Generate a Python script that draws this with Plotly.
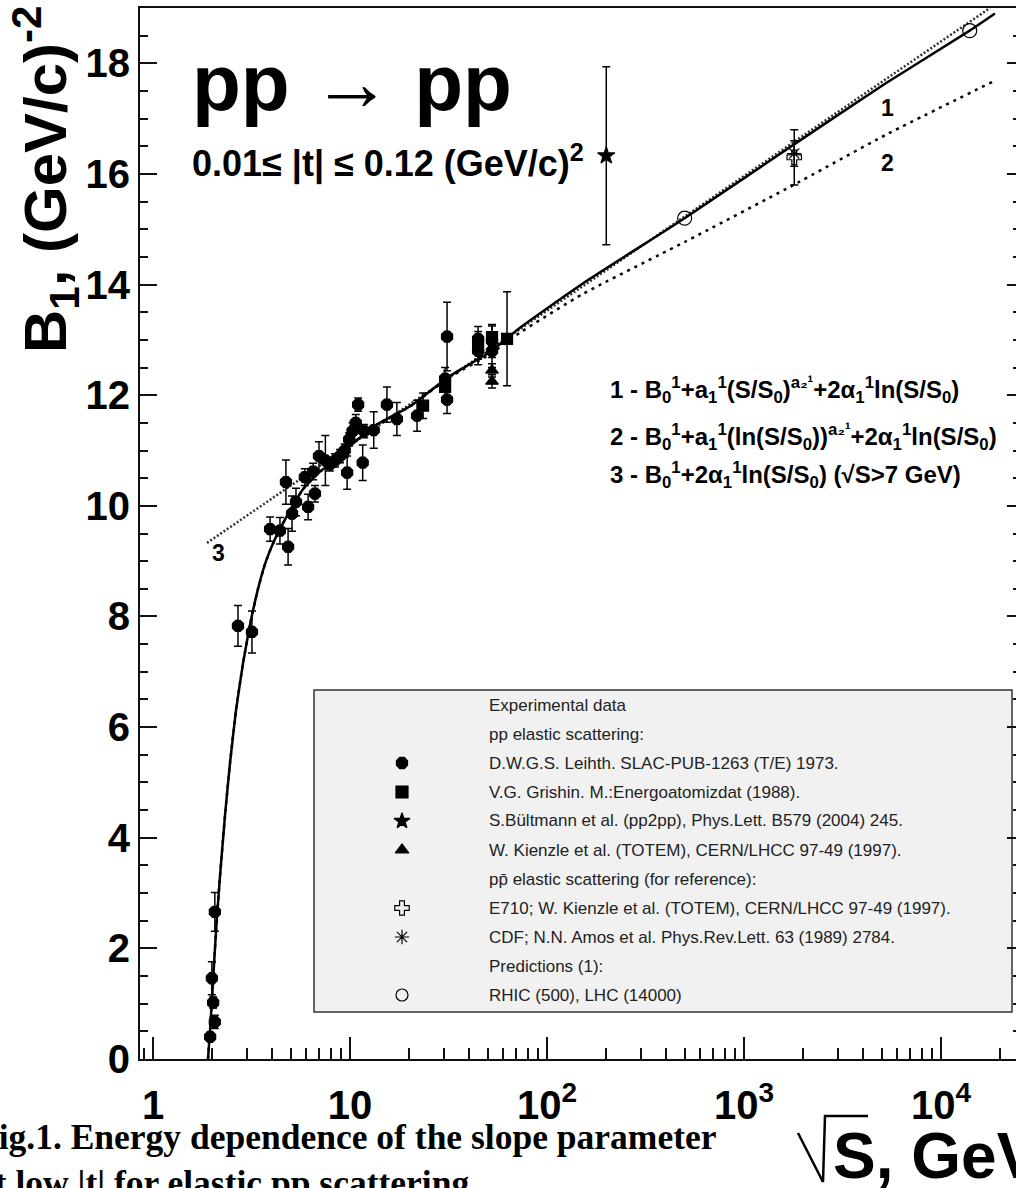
import plotly.graph_objects as go

# ---------------- data ----------------
# D.W.G.S. Leith, SLAC (full circles): sqrt(s) [GeV], B1 [(GeV/c)^-2], error
leith_s = [1.95, 2.02, 2.06, 1.99, 2.06, 2.70, 3.18, 3.93, 4.41, 4.85, 4.73, 5.08,
           5.32, 6.13, 6.64, 5.90, 6.50, 6.96, 7.50, 7.90, 8.40, 8.90, 9.40, 9.67,
           9.90, 10.3, 10.7, 11.0, 11.6, 11.8, 13.2, 15.4, 17.3, 21.9, 30.4, 31.1,
           31.1, 44.7, 44.7, 52.6, 52.6]
leith_B = [0.40, 1.02, 0.67, 1.46, 2.66, 7.83, 7.72, 9.58, 9.55, 9.26, 10.43, 9.86,
           10.07, 9.98, 10.22, 10.52, 10.62, 10.90, 10.82, 10.75, 10.82, 10.90, 11.00, 10.60,
           11.20, 11.35, 11.50, 11.83, 10.78, 11.35, 11.37, 11.83, 11.57, 11.63, 12.30, 11.92,
           13.06, 13.02, 12.80, 12.98, 12.80]
leith_err = [0.08, 0.10, 0.12, 0.30, 0.35, 0.37, 0.38, 0.22, 0.24, 0.33, 0.40, 0.32,
             0.25, 0.23, 0.15, 0.15, 0.15, 0.26, 0.45, 0.12, 0.12, 0.12, 0.12, 0.30,
             0.12, 0.15, 0.15, 0.12, 0.32, 0.12, 0.33, 0.32, 0.30, 0.28, 0.20, 0.25,
             0.62, 0.22, 0.25, 0.30, 0.30]

# V.G. Grishin (full squares)
grishin_s = [23.5, 30.4, 44.7, 52.6, 62.7]
grishin_B = [11.81, 12.15, 12.90, 13.05, 13.02]
grishin_err = [0.23, 0.20, 0.25, 0.20, 0.85]

# W. Kienzle et al. (TOTEM) (full triangles)
totem_s = [52.6, 52.6]
totem_B = [12.45, 12.25]
totem_err = [0.12, 0.12]

# S. Bueltmann et al. (pp2pp) (star)
pp2pp_s = [200.0]
pp2pp_B = [16.33]
pp2pp_err = [1.61]

# E710 (open cross) and CDF (asterisk), p-pbar
e710_s = [1800.0]
e710_B = [16.30]
e710_err = [0.50]
cdf_s = [1800.0]
cdf_B = [16.37]
cdf_err = [0.23]

# Predictions (1): RHIC, LHC (open circles)
pred_s = [500.0, 14000.0]
pred_B = [15.20, 18.59]

# Curve 1 (solid)
curve1_s = [1.902, 1.947, 2.017, 2.088, 2.188, 2.320, 2.460, 2.638, 2.863, 3.108,
            3.412, 3.746, 4.162, 4.845, 5.772, 7.042, 8.897, 10.0,
            13.4, 20.2, 32.2, 51.4, 72.9, 152.0, 500.0, 1720.0, 5200.0, 14000.0, 18800.0]
curve1_B = [0.00, 0.50, 1.40, 2.30, 3.30, 4.40, 5.35, 6.30, 7.15, 7.85,
            8.50, 9.00, 9.40, 9.85, 10.30, 10.62, 10.88, 11.08,
            11.45, 11.80, 12.35, 12.78, 13.22, 14.02, 15.20, 16.49, 17.63, 18.59, 18.90]

# Curve 2 (dashed)
curve2_s = [1.902, 1.947, 2.017, 2.088, 2.188, 2.320, 2.460, 2.638, 2.863, 3.108,
            3.412, 3.746, 4.162, 4.845, 5.772, 7.042, 8.897, 10.0,
            13.4, 20.2, 32.2, 51.4, 72.9, 152.0, 500.0, 1720.0, 5200.0, 18370.0]
curve2_B = [0.00, 0.50, 1.40, 2.30, 3.30, 4.40, 5.35, 6.30, 7.15, 7.85,
            8.50, 9.00, 9.40, 9.85, 10.30, 10.62, 10.88, 11.08,
            11.45, 11.80, 12.33, 12.74, 13.13, 13.83, 14.77, 15.77, 16.70, 17.67]

# Curve 3 (dotted)
curve3_s = [1.88, 20.0, 500.0, 17740.0]
curve3_B = [9.33, 11.83, 15.23, 19.00]

# Axis ticks
xtick_vals = [1, 10, 100, 1000, 10000]
xtick_text = ["1", "10", "10<sup>2</sup>", "10<sup>3</sup>", "10<sup>4</sup>"]

# Legend
legend_lines = [
    "Experimental data",
    "pp elastic scattering:",
    "D.W.G.S. Leihth. SLAC-PUB-1263 (T/E) 1973.",
    "V.G. Grishin. M.:Energoatomizdat (1988).",
    "S.B\u00fcltmann et al. (pp2pp), Phys.Lett. B579 (2004) 245.",
    "W. Kienzle et al. (TOTEM), CERN/LHCC 97-49 (1997).",
    "pp\u0304 elastic scattering (for reference):",
    "E710; W. Kienzle et al. (TOTEM), CERN/LHCC 97-49 (1997).",
    "CDF; N.N. Amos et al. Phys.Rev.Lett. 63 (1989) 2784.",
    "Predictions (1):",
    "RHIC (500), LHC (14000)",
]
legend_symbol_rows = [2, 3, 4, 5, 7, 8, 10]
legend_symbols = ["octagon", "square", "star", "triangle-up", "cross-open", "asterisk-open", "circle-open"]

# ---------------- layout geometry (pixels) ----------------
W, H = 1016, 1188
L, R, T, B = 140, 1016, 8, 1059


def xp(x):
    return (x - L) / (R - L)


def yp(y):
    return (B - y) / (B - T)


FONT = "Liberation Sans, Arial, Helvetica, sans-serif"
SERIF = "Liberation Serif, Times New Roman, serif"
INK = "#111111"

fig = go.Figure()

# curves
fig.add_trace(go.Scatter(x=curve3_s, y=curve3_B, mode="lines",
                         line=dict(color="#333333", width=2.5, dash="2px,2px"),
                         hoverinfo="skip"))
fig.add_trace(go.Scatter(x=curve2_s, y=curve2_B, mode="lines",
                         line=dict(color="black", width=2.5, dash="3px,5px", shape="spline", smoothing=0.5),
                         hoverinfo="skip"))
fig.add_trace(go.Scatter(x=curve1_s, y=curve1_B, mode="lines",
                         line=dict(color="black", width=2.5, shape="spline", smoothing=0.5),
                         hoverinfo="skip"))


def add_points(s, b, e, symbol, size):
    kw = {}
    if e is not None:
        kw["error_y"] = dict(type="data", array=e, visible=True, color="black",
                             thickness=1.5, width=4)
    fig.add_trace(go.Scatter(x=s, y=b, mode="markers",
                             marker=dict(symbol=symbol, size=size, color="black",
                                         line=dict(color="black", width=1.2)),
                             **kw))


add_points(leith_s, leith_B, leith_err, "octagon", 12)
add_points(grishin_s, grishin_B, grishin_err, "square", 11)
add_points(totem_s, totem_B, totem_err, "triangle-up", 11)
add_points(pp2pp_s, pp2pp_B, pp2pp_err, "star", 13)
add_points(e710_s, e710_B, e710_err, "cross-open", 12)
add_points(cdf_s, cdf_B, cdf_err, "asterisk-open", 12)
add_points(pred_s, pred_B, None, "circle-open", 14)

# dummy trace for the right-hand tick axis
fig.add_trace(go.Scatter(x=[1], y=[0], yaxis="y2", mode="markers",
                         marker=dict(opacity=0), hoverinfo="skip"))

# legend key markers (overlay axes in pixel units)
LEG_X0, LEG_ROW0, LEG_DY = 402, 705, 29
fig.add_trace(go.Scatter(
    x=[LEG_X0] * len(legend_symbol_rows),
    y=[LEG_ROW0 + LEG_DY * r for r in legend_symbol_rows],
    xaxis="x3", yaxis="y3", mode="markers",
    marker=dict(symbol=legend_symbols, size=12, color="black",
                line=dict(color="black", width=1.2)),
    hoverinfo="skip"))

shapes = [
    dict(type="rect", xref="x3", yref="y3", x0=314, x1=1012, y0=690, y1=1012,
         fillcolor="#f1f1f1", line=dict(color="#333333", width=1.5), layer="below"),
    # square-root sign of the x title
    dict(type="path", xref="paper", yref="paper",
         path=f"M {xp(798)},{yp(1133)} L {xp(823)},{yp(1182)} L {xp(825)},{yp(1116)} L {xp(868)},{yp(1116)}",
         line=dict(color="black", width=2.5)),
]

annotations = []
for i, txt in enumerate(legend_lines):
    annotations.append(dict(x=xp(487), y=yp(LEG_ROW0 + LEG_DY * i), xref="paper", yref="paper",
                            text=txt, showarrow=False, xanchor="left", yanchor="middle",
                            font=dict(family=FONT, size=17, color="#222222")))

annotations += [
    dict(x=xp(190), y=yp(83), xref="paper", yref="paper", text="pp \u2192 pp",
         showarrow=False, xanchor="left", yanchor="middle",
         font=dict(family=FONT, size=80, color="black", weight="bold")),
    dict(x=xp(190), y=yp(162), xref="paper", yref="paper",
         text="0.01\u2264 |t| \u2264 0.12 (GeV/c)<sup>2</sup>",
         showarrow=False, xanchor="left", yanchor="middle",
         font=dict(family=FONT, size=36, color="black", weight="bold")),
    dict(x=xp(887), y=yp(108), xref="paper", yref="paper", text="1", showarrow=False,
         xanchor="center", yanchor="middle", font=dict(family=FONT, size=23, color="black", weight="bold")),
    dict(x=xp(887), y=yp(163), xref="paper", yref="paper", text="2", showarrow=False,
         xanchor="center", yanchor="middle", font=dict(family=FONT, size=23, color="black", weight="bold")),
    dict(x=xp(218), y=yp(553), xref="paper", yref="paper", text="3", showarrow=False,
         xanchor="center", yanchor="middle", font=dict(family=FONT, size=23, color="black", weight="bold")),
    dict(x=xp(608), y=yp(390), xref="paper", yref="paper",
         text="1 - B<sub>0</sub><sup>1</sup>+a<sub>1</sub><sup>1</sup>(S/S<sub>0</sub>)<sup>a\u2082\u00b9</sup>+2\u03b1<sub>1</sub><sup>1</sup>ln(S/S<sub>0</sub>)",
         showarrow=False, xanchor="left", yanchor="middle",
         font=dict(family=FONT, size=24, color="black", weight="bold")),
    dict(x=xp(608), y=yp(437), xref="paper", yref="paper",
         text="2 - B<sub>0</sub><sup>1</sup>+a<sub>1</sub><sup>1</sup>(ln(S/S<sub>0</sub>))<sup>a\u2082\u00b9</sup>+2\u03b1<sub>1</sub><sup>1</sup>ln(S/S<sub>0</sub>)",
         showarrow=False, xanchor="left", yanchor="middle",
         font=dict(family=FONT, size=24, color="black", weight="bold")),
    dict(x=xp(608), y=yp(475), xref="paper", yref="paper",
         text="3 - B<sub>0</sub><sup>1</sup>+2\u03b1<sub>1</sub><sup>1</sup>ln(S/S<sub>0</sub>) (\u221aS>7 GeV)",
         showarrow=False, xanchor="left", yanchor="middle",
         font=dict(family=FONT, size=24, color="black", weight="bold")),
    # y axis title
    dict(x=xp(46), y=yp(180), xref="paper", yref="paper",
         text="B<sub>1</sub>, (GeV/c)<sup>-2</sup>", textangle=-90, showarrow=False,
         xanchor="center", yanchor="middle",
         font=dict(family=FONT, size=60, color="black", weight="bold")),
    # x axis title
    dict(x=xp(831), y=yp(1156), xref="paper", yref="paper", text="S, GeV", showarrow=False,
         xanchor="left", yanchor="middle",
         font=dict(family=FONT, size=64, color="black", weight="bold")),
    # caption
    dict(x=xp(718), y=yp(1115), xref="paper", yref="paper",
         text="Fig.1. Energy dependence of the slope parameter<br>at low |t| for elastic pp scattering",
         showarrow=False, xanchor="right", yanchor="top", align="left",
         font=dict(family=SERIF, size=35.5, color="black", weight="bold")),
]

minor_x = [m * 10 ** d for d in range(-1, 5) for m in range(2, 10)]

fig.update_layout(
    width=W, height=H,
    margin=dict(l=L, r=W - R, t=T, b=H - B),
    paper_bgcolor="white", plot_bgcolor="rgba(0,0,0,0)",
    showlegend=False,
    xaxis=dict(type="log", range=[-0.066, 4.381], showline=True, linecolor=INK, linewidth=2,
               mirror=True, ticks="inside", ticklen=22, tickwidth=1.5, tickcolor=INK,
               tickmode="array", tickvals=xtick_vals, ticktext=xtick_text,
               tickfont=dict(family=FONT, size=40, color="black", weight="bold"),
               ticklabelstandoff=10, showgrid=False, zeroline=False,
               minor=dict(ticks="inside", ticklen=11, tickwidth=1.5, tickcolor=INK,
                          tickmode="array", tickvals=minor_x, showgrid=False)),
    yaxis=dict(range=[0, 19.0], showline=True, linecolor=INK, linewidth=2, mirror=False,
               ticks="inside", ticklen=17, tickwidth=1.5, tickcolor=INK,
               tick0=0, dtick=2,
               tickfont=dict(family=FONT, size=40, color="black", weight="bold"),
               ticklabelstandoff=0, showgrid=False, zeroline=False,
               minor=dict(ticks="inside", ticklen=8, tickwidth=1.5, tickcolor=INK,
                          tick0=0, dtick=0.5, showgrid=False)),
    yaxis2=dict(range=[0, 19.0], overlaying="y", side="right", anchor="x",
                showline=False, ticks="inside", ticklen=9, tickwidth=1.5, tickcolor=INK,
                tick0=0, dtick=2, showticklabels=False, showgrid=False, zeroline=False,
                minor=dict(ticks="inside", ticklen=3, tickwidth=1.5, tickcolor=INK,
                           tick0=0, dtick=0.5, showgrid=False)),
    xaxis3=dict(range=[L, R], overlaying="x", visible=False, showgrid=False, zeroline=False),
    yaxis3=dict(range=[B, T], overlaying="y", visible=False, showgrid=False, zeroline=False),
    shapes=shapes,
    annotations=annotations,
)

fig.write_html("out.html")
